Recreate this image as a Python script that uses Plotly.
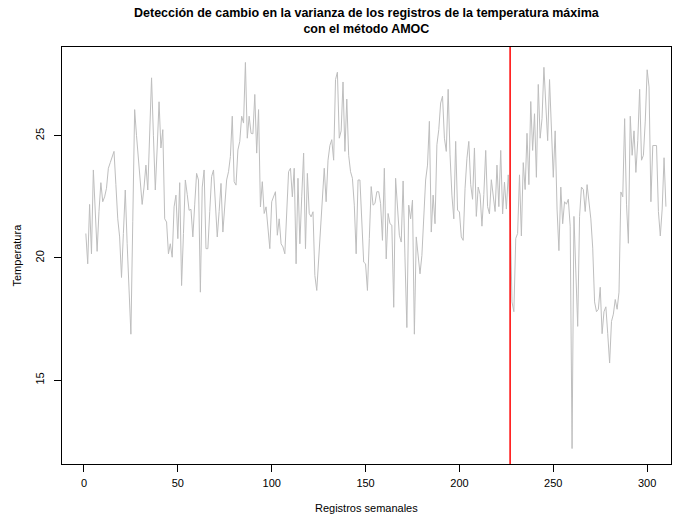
import numpy as np
import plotly.graph_objects as go

# Weekly maximum-temperature records (index 1..n)
temperatura = [
    21.0, 19.76, 22.19, 20.17, 23.6, 21.8, 20.27, 21.9, 23.08, 22.3,
    22.5, 22.85, 23.67, 23.9, 24.1, 24.36, 23.0, 21.6, 20.86, 19.2,
    21.0, 22.78, 20.6, 18.7, 16.88, 21.5, 26.07, 25.0, 24.0, 23.26,
    22.19, 22.9, 23.8, 22.78, 25.0, 27.37, 25.0, 22.78, 24.5, 26.39,
    24.5, 25.25, 21.6, 21.47, 20.17, 20.58, 20.03, 22.09, 22.57, 20.79,
    23.08, 18.87, 21.0, 23.19, 22.6, 21.95, 21.99, 20.86, 22.2, 23.46,
    23.19, 18.6, 22.9, 23.6, 20.38, 20.38, 21.9, 23.33, 23.6, 22.4,
    20.86, 21.9, 23.05, 21.06, 22.2, 23.19, 23.53, 24.15, 25.8, 23.12,
    22.98, 24.42, 24.77, 25.8, 25.52, 28.0, 24.9, 25.8, 25.1, 25.08,
    26.69, 24.29, 26.07, 22.09, 23.12, 21.82, 22.09, 21.2, 20.38, 22.3,
    22.5, 22.71, 20.93, 21.6, 20.58, 20.45, 20.17, 21.75, 23.53, 23.67,
    22.5, 23.67, 19.76, 23.26, 20.58, 22.5, 24.29, 20.38, 23.46, 21.82,
    21.68, 21.89, 19.28, 18.67, 19.83, 21.2, 22.3, 23.67, 22.3, 24.0,
    24.6, 24.84, 24.0, 27.3, 27.6, 24.9, 25.2, 27.2, 24.36, 26.5,
    24.2, 23.53, 23.26, 22.16, 20.17, 23.19, 23.19, 21.6, 19.83, 19.76,
    18.67, 20.8, 22.92, 22.16, 22.23, 22.71, 22.71, 22.23, 20.72, 23.67,
    19.96, 21.82, 21.4, 21.34, 17.98, 23.26, 21.89, 20.93, 20.65, 23.15,
    20.0, 17.15, 22.16, 21.6, 22.37, 16.88, 20.86, 20.0, 19.35, 20.1,
    21.7, 23.19, 23.8, 25.59, 21.06, 22.57, 21.4, 24.63, 25.25, 26.34,
    26.62, 24.9, 24.36, 26.9, 24.22, 22.57, 21.6, 24.77, 21.95, 21.89,
    20.86, 20.72, 22.85, 24.08, 24.77, 23.0, 22.4, 24.5, 21.7, 22.9,
    22.6, 21.3, 22.6, 24.4, 22.1, 21.8, 23.2, 22.5, 21.9, 23.8,
    22.1, 24.4, 21.8, 23.1, 22.0, 23.4, 22.0, 18.2, 17.8, 20.8,
    21.0, 23.4, 20.9, 23.9, 22.8, 25.1, 23.0, 26.4, 24.4, 25.9,
    23.3, 27.1, 24.9, 25.7, 27.8, 26.3, 24.8, 27.3, 25.0, 23.3,
    25.2, 22.0, 20.3, 22.9, 21.4, 22.3, 22.2, 22.4, 21.3, 12.2,
    21.7, 19.3, 17.2, 21.7, 22.9, 22.8, 21.9, 23.0, 22.3, 21.6,
    20.4, 18.2, 17.8, 17.9, 18.8, 16.9, 17.8, 18.0, 16.9, 15.7,
    17.4, 17.7, 18.3, 17.9, 18.6, 22.7, 22.5, 25.7, 22.2, 20.6,
    25.8, 24.2, 25.2, 23.5, 24.8, 26.9, 24.0, 24.2, 25.6, 27.7,
    27.0, 22.3, 24.6, 24.6, 24.6, 21.9, 20.9, 22.0, 24.1, 22.1,
]

# AMOC change point in variance
punto_cambio = 227

x_ticks = [0, 50, 100, 150, 200, 250, 300]
y_ticks = [15, 20, 25]
x_range = [-11.7, 312.7]

titulo = "Detección de cambio en la varianza de los registros de la temperatura máxima<br>con el método AMOC"
x_label = "Registros semanales"
y_label = "Temperatura"

y = np.array(temperatura)
n = len(y)
x = np.arange(1, n + 1)

# R-style 4% padding on the value axis
pad = (y.max() - y.min()) * 0.04
y_range = [y.min() - pad, y.max() + pad]

font = "Liberation Sans, Arial, Helvetica, sans-serif"

fig = go.Figure()
fig.add_trace(go.Scatter(
    x=x, y=y, mode="lines",
    line=dict(color="#BEBEBE", width=1),
    hoverinfo="skip", showlegend=False,
))

fig.add_shape(type="line", xref="x", yref="paper",
              x0=punto_cambio, x1=punto_cambio, y0=0, y1=1,
              line=dict(color="#FF0000", width=1.5))

axis_common = dict(
    showgrid=False, zeroline=False,
    showline=True, mirror=True, linecolor="black", linewidth=1,
    ticks="outside", ticklen=7, tickwidth=1, tickcolor="black",
    tickfont=dict(family=font, size=11, color="black"),
)

fig.update_xaxes(range=x_range, tickvals=x_ticks, ticktext=[str(v) for v in x_ticks],
                 ticklabelstandoff=2, **axis_common)
fig.update_yaxes(range=y_range, tickvals=y_ticks, ticktext=[str(v) for v in y_ticks],
                 tickangle=-90, ticklabelstandoff=6, **axis_common)

fig.update_layout(
    width=692, height=516,
    margin=dict(l=62, r=21, t=47, b=52),
    paper_bgcolor="white", plot_bgcolor="white",
    annotations=[
        dict(text="<b>" + titulo + "</b>", xref="paper", yref="paper",
             x=0.5, y=1, yshift=9, xanchor="center", yanchor="bottom",
             showarrow=False, font=dict(family=font, size=12.5, color="black")),
        dict(text=x_label, xref="paper", yref="paper", x=0.5, y=0,
             yshift=-36, xanchor="center", yanchor="top", showarrow=False,
             font=dict(family=font, size=11, color="black")),
        dict(text=y_label, xref="paper", yref="paper", x=0, y=0.5,
             xshift=-38, xanchor="right", yanchor="middle", textangle=-90,
             showarrow=False, font=dict(family=font, size=11, color="black")),
    ],
)

fig.write_html("out.html")
